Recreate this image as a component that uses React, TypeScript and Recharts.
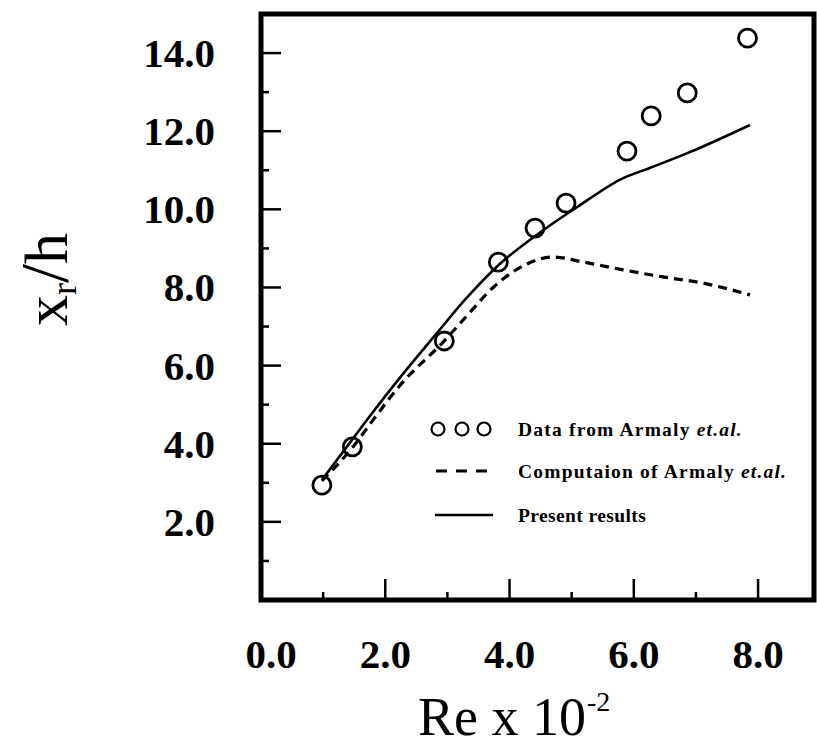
import React from "react";
import { ComposedChart, Line, Scatter, XAxis, YAxis, Legend, ReferenceArea } from "recharts";

// Re x 10^-2 vs x_r/h
const xTicks = [0, 1, 2, 3, 4, 5, 6, 7, 8];
const yTicks = [1, 2, 3, 4, 5, 6, 7, 8, 9, 10, 11, 12, 13, 14];
const xLabeled = [0, 2, 4, 6, 8];
const yLabeled = [2, 4, 6, 8, 10, 12, 14];

const armalyRe = [0.98, 1.47, 2.95, 3.82, 4.41, 4.91, 5.89, 6.28, 6.86, 7.83];
const armalyXr = [2.94, 3.92, 6.63, 8.65, 9.52, 10.16, 11.49, 12.39, 12.98, 14.38];

const computedRe = [0.98, 1.47, 1.8, 2.24, 2.93, 3.3, 3.75, 4.28, 4.7, 5.19, 5.83, 6.47, 7.12, 7.87];
const computedXr = [3.05, 3.9, 4.6, 5.5, 6.6, 7.25, 8.02, 8.6, 8.78, 8.65, 8.45, 8.27, 8.11, 7.81];

const presentRe = [0.98, 1.38, 1.71, 2.24, 2.83, 3.28, 3.82, 4.44, 5.09, 5.83, 6.26, 6.91, 7.87];
const presentXr = [3.07, 3.92, 4.62, 5.7, 6.83, 7.68, 8.57, 9.35, 10.06, 10.8, 11.06, 11.47, 12.16];

const armalyData = armalyRe.map((re, i) => ({ re, xr: armalyXr[i] }));
const computedData = computedRe.map((re, i) => ({ re, xr: computedXr[i] }));
const presentData = presentRe.map((re, i) => ({ re, xr: presentXr[i] }));

const tickFont = { fontFamily: "Liberation Serif", fontWeight: 700, fontSize: 41, fill: "#000" };
const legendFont = {
  fontFamily: "Liberation Serif",
  fontWeight: 700,
  fontSize: 19.5,
  letterSpacing: 1.2,
  fill: "#000",
};

function YTick({ x, y, payload }: any) {
  const v = payload.value;
  const major = yLabeled.includes(v);
  return (
    <g>
      <line x1={x} x2={x + (major ? 20 : 8)} y1={y} y2={y} stroke="#000" strokeWidth={2.5} />
      {major && (
        <text x={x - 46} y={y} textAnchor="end" dominantBaseline="central" {...tickFont}>
          {v.toFixed(1)}
        </text>
      )}
    </g>
  );
}

function XTick({ x, y, payload }: any) {
  const v = payload.value;
  const major = xLabeled.includes(v);
  return (
    <g>
      {v > 0 && (
        <line x1={x} x2={x} y1={y} y2={y - (major ? 21 : 8)} stroke="#000" strokeWidth={2.5} />
      )}
      {major && (
        <text x={v === 0 ? x + 10 : x} y={y + 68} textAnchor="middle" {...tickFont}>
          {v.toFixed(1)}
        </text>
      )}
    </g>
  );
}

function XTitle({ viewBox }: any) {
  const { x, y } = viewBox;
  return (
    <text x={x + 157} y={y + 135} fontFamily="Liberation Serif" fontSize={54} fill="#000">
      Re x 10
      <tspan fontSize={28} dy={-24} dx={1}>-2</tspan>
    </text>
  );
}

function YTitle() {
  const bx = 67;
  const by = 326;
  return (
    <text
      x={bx}
      y={by}
      transform={`rotate(-90, ${bx}, ${by})`}
      fontFamily="Liberation Serif"
      fontSize={62}
      fill="#000"
    >
      x
      <tspan fontSize={36} dy={9}>r</tspan>
      <tspan fontSize={68} dy={-9}>/</tspan>
      <tspan>h</tspan>
    </text>
  );
}

function LegendBox() {
  return (
    <svg width={395} height={125}>
      <circle cx={18} cy={24} r={6.5} fill="none" stroke="#000" strokeWidth={2.2} />
      <circle cx={42} cy={24} r={6.5} fill="none" stroke="#000" strokeWidth={2.2} />
      <circle cx={64} cy={24} r={6.5} fill="none" stroke="#000" strokeWidth={2.2} />
      <text x={98} y={24} dominantBaseline="central" {...legendFont}>
        Data from Armaly <tspan fontStyle="italic">et.al.</tspan>
      </text>
      <line x1={16} x2={69} y1={66} y2={66} stroke="#000" strokeWidth={3} strokeDasharray="11 9" />
      <text x={98} y={66} dominantBaseline="central" {...legendFont}>
        Computaion of Armaly <tspan fontStyle="italic">et.al.</tspan>
      </text>
      <line x1={15} x2={73} y1={110} y2={110} stroke="#000" strokeWidth={2.5} />
      <text x={98} y={110} dominantBaseline="central" {...legendFont} letterSpacing={0.4}>
        Present results
      </text>
    </svg>
  );
}

const ringShape = ({ cx, cy }: any) => (
  <circle cx={cx} cy={cy} r={9} fill="none" stroke="#000" strokeWidth={2.8} />
);

export default function App() {
  return (
    <div style={{ position: "absolute", left: 0, top: 0, background: "#fff" }}>
      <ComposedChart width={817} height={749} margin={{ top: 14, right: 3, bottom: 0, left: 0 }}>
        <XAxis
          dataKey="re"
          type="number"
          domain={[0, 8.9]}
          ticks={xTicks}
          interval={0}
          height={149}
          axisLine={false}
          tickLine={false}
          tickSize={0}
          tickMargin={0}
          tick={XTick}
          label={<XTitle />}
          allowDataOverflow
        />
        <YAxis
          type="number"
          domain={[0, 15]}
          ticks={yTicks}
          interval={0}
          width={261}
          axisLine={false}
          tickLine={false}
          tickSize={0}
          tickMargin={0}
          tick={YTick}
          label={<YTitle />}
          allowDataOverflow
        />
        <ReferenceArea
          x1={0}
          x2={8.9}
          y1={0}
          y2={15}
          fill="none"
          stroke="#000"
          strokeWidth={5}
          ifOverflow="visible"
        />
        <Line
          data={presentData}
          dataKey="xr"
          type="monotone"
          stroke="#000"
          strokeWidth={2.6}
          dot={false}
          isAnimationActive={false}
          legendType="none"
        />
        <Line
          data={computedData}
          dataKey="xr"
          type="monotone"
          stroke="#000"
          strokeWidth={3.2}
          strokeDasharray="9 6"
          dot={false}
          isAnimationActive={false}
          legendType="none"
        />
        <Scatter
          data={armalyData}
          dataKey="xr"
          shape={ringShape}
          isAnimationActive={false}
          legendType="none"
        />
        <Legend
          layout="horizontal"
          verticalAlign="middle"
          align="center"
          content={() => <LegendBox />}
          wrapperStyle={{ left: 420, top: 405, width: 395, height: 125 }}
        />
      </ComposedChart>
    </div>
  );
}
